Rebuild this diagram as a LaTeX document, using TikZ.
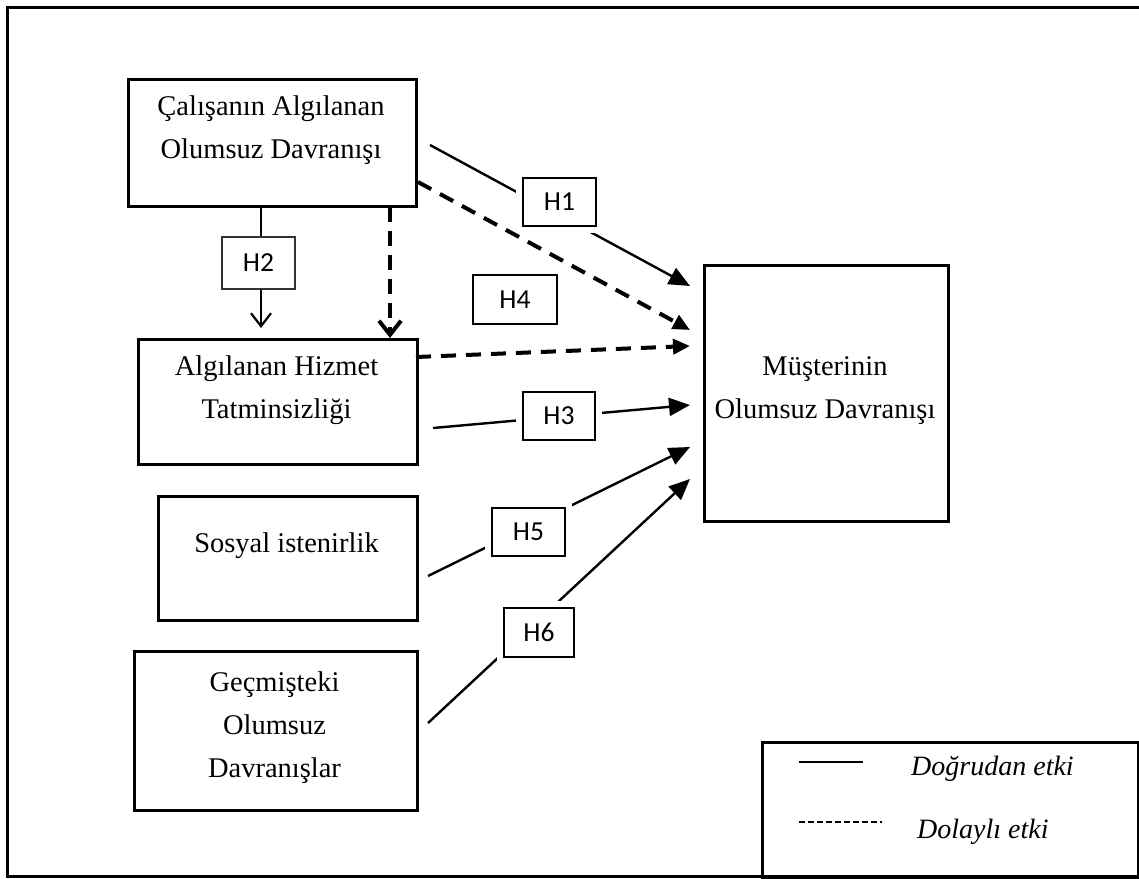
\documentclass[tikz,border=0pt]{standalone}
\usepackage{fontspec}
\setmainfont{Liberation Serif}
\newfontfamily\labelfont{Carlito}
\usetikzlibrary{arrows.meta}

\begin{document}
\begin{tikzpicture}[x=1pt,y=-1pt,
  framepath/.style={line width=3pt},
  varbox/.style={draw, line width=2.5pt, rectangle, inner sep=0pt, anchor=north west},
  vartext/.style={anchor=north, inner sep=0pt, align=center,
    font=\fontsize{28.5}{43}\selectfont},
  hyp/.style={draw, line width=2.5pt, rectangle, inner sep=0pt, fill=white,
    font=\labelfont\fontsize{27.5}{30}\selectfont},
  hyphalo/.style={hyp, preaction={draw=white, line width=14pt}},
  direct/.style={line width=2.4pt, -{Triangle[length=21pt,width=18pt]}},
  indirect/.style={line width=4pt, dash pattern=on 15pt off 10pt,
    -{Triangle[length=17pt,width=15pt]}},
  legtext/.style={anchor=base west, inner sep=0pt,
    font=\itshape\fontsize{28}{30}\selectfont}]

\useasboundingbox (0,0) rectangle (1139,878);

% outer frame (open on the right above the legend)
\draw[framepath] (1139,7) -- (7,7) -- (7,876.5) -- (1137,876.5);

% construct boxes
\node[varbox, minimum width=288pt, minimum height=127pt] (A) at (127,78) {};
\node[varbox, minimum width=279pt, minimum height=125pt] (B) at (137,338) {};
\node[varbox, minimum width=259pt, minimum height=124pt] (C) at (157,495) {};
\node[varbox, minimum width=283pt, minimum height=159pt] (D) at (133,650) {};
\node[varbox, minimum width=244pt, minimum height=256pt] (M) at (703,264) {};

\node[vartext] (At) at (271,95.5) {Çalışanın Algılanan\\Olumsuz Davranışı};
\node[vartext] (Bt) at (276.5,355.5) {Algılanan Hizmet\\Tatminsizliği};
\node[vartext] (Ct) at (286.5,533) {Sosyal istenirlik};
\node[vartext] (Dt) at (274.5,672) {Geçmişteki\\Olumsuz\\Davranışlar};
\node[vartext] (Mt) at (825,356) {Müşterinin\\Olumsuz Davranışı};

% connector end points
\coordinate (a1) at (430,145);
\coordinate (m1) at (690,286);
\coordinate (a4) at (418,182);
\coordinate (m4) at (690,330);
\coordinate (b4) at (416,357);
\coordinate (mb) at (690,346);
\coordinate (b3) at (433,428);
\coordinate (m3) at (690,405);
\coordinate (c5) at (428,576);
\coordinate (m5) at (690,447);
\coordinate (d6) at (428,723);
\coordinate (m6) at (690,479);
\coordinate (a2) at (261,207);
\coordinate (b2) at (261,328);
\coordinate (av) at (390,207);
\coordinate (bv) at (390,338);

% direct effects
\draw[direct] (a1) -- (m1);
\draw[direct] (b3) -- (m3);
\draw[direct] (c5) -- (m5);
\draw[direct] (d6) -- (m6);
\draw[line width=2.2pt, -{Straight Barb[length=13pt,width=20pt]}] (a2) -- (b2);

% indirect effects
\draw[indirect] (a4) -- (m4);
\draw[indirect] (b4) -- (mb);
\draw[line width=4pt, dash pattern=on 15pt off 9pt,
  -{Straight Barb[length=14pt,width=22pt]}] (av) -- (bv);

% hypothesis labels
\node[hyphalo, minimum width=73pt, minimum height=48pt] (H1) at (559.5,202) {H1};
\node[hyp, minimum width=84pt, minimum height=49pt] (H4) at (515,299.5) {H4};
\node[hyp, line width=1.2pt, draw=black!80, minimum width=73pt, minimum height=52pt] (H2) at (258.5,263) {H2};
\node[hyphalo, minimum width=72pt, minimum height=48pt] (H3) at (559,416) {H3};
\node[hyphalo, minimum width=73pt, minimum height=48pt] (H5) at (528.5,532) {H5};
\node[hyphalo, minimum width=70pt, minimum height=49pt] (H6) at (539,632.5) {H6};

% legend
\node[draw, line width=2.5pt, inner sep=0pt, anchor=north west,
  minimum width=376pt, minimum height=135pt] (L) at (761,741) {};
\coordinate (ls1) at (799,762);
\coordinate (le1) at (863,762);
\coordinate (ls2) at (799,822);
\coordinate (le2) at (882,822);
\draw[line width=1.2pt] (ls1) -- (le1);
\draw[line width=1.2pt, dash pattern=on 6pt off 3pt] (ls2) -- (le2);
\node[legtext] (L1) at (911,775) {Doğrudan etki};
\node[legtext] (L2) at (917,838) {Dolaylı etki};
\end{tikzpicture}
\end{document}
